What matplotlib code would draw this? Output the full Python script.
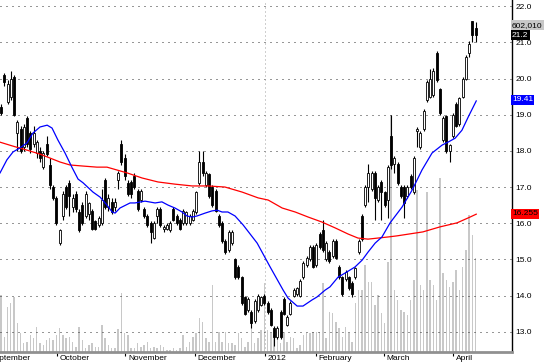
import matplotlib
matplotlib.use('Agg')
import matplotlib.pyplot as plt
import matplotlib.transforms as mtransforms

plt.rcParams['font.family'] = ['Liberation Sans', 'DejaVu Sans']

# daily candles, Sep 2011 - Apr 2012
opens = [19.2, 20.1, 19.35, 19.5, 20.05, 18.5, 18.6, 18.1, 18.9, 18.5,
         18.2, 17.95, 18.0, 17.55, 18.2, 17.6, 17.0, 16.7, 15.45, 16.2,
         17.0, 17.1, 16.45, 16.8, 16.3, 16.5, 16.2, 16.25, 16.35, 16.05,
         15.95, 16.0, 17.2, 16.45, 16.6, 16.45, 17.2, 18.2, 17.8, 17.1,
         17.15, 17.3, 16.9, 16.65, 16.4, 16.2, 16.0, 15.6, 16.2, 16.4,
         15.85, 15.85, 15.8, 16.4, 16.2, 16.1, 16.0, 16.0, 16.0, 16.1,
         16.3, 17.1, 17.7, 17.05, 17.35, 17.0, 16.9, 16.2, 16.0, 15.5,
         15.25, 15.45, 15.0, 14.8, 14.5, 13.95, 13.6, 13.55, 13.3, 13.6,
         13.75, 14.0, 13.8, 13.6, 13.1, 12.85, 13.55, 13.9, 13.2, 13.5,
         14.0, 14.05, 14.0, 14.5, 14.85, 15.0, 15.35, 14.85, 15.7, 15.8,
         15.0, 15.2, 15.1, 15.5, 14.8, 14.5, 14.45, 14.5, 14.35, 14.5,
         15.2, 16.2, 16.5, 17.0, 16.95, 17.4, 16.65, 17.15, 16.85, 16.65,
         18.4, 17.65, 17.65, 17.0, 17.0, 16.75, 17.3, 16.85, 18.55, 18.1,
         18.6, 19.4, 19.5, 19.55, 20.7, 19.7, 18.3, 18.95, 18.0, 18.4,
         19.3, 18.75, 19.5, 20.0, 20.7, 21.6, 21.4]
highs = [19.3, 20.15, 19.95, 20.2, 20.1, 18.85, 18.7, 18.75, 18.95, 18.55,
         18.7, 18.3, 18.1, 18.0, 18.4, 17.8, 17.05, 16.75, 15.85, 16.9,
         17.05, 17.2, 16.8, 16.9, 16.4, 16.6, 16.9, 16.6, 16.4, 16.1,
         16.2, 16.95, 17.25, 16.8, 16.7, 16.7, 17.45, 18.3, 17.9, 17.2,
         17.2, 17.4, 16.95, 16.95, 16.45, 16.25, 16.05, 16.05, 16.45, 16.45,
         15.95, 16.0, 16.05, 16.45, 16.25, 16.15, 16.4, 16.35, 16.25, 16.4,
         16.9, 18.0, 18.0, 17.45, 17.4, 17.05, 16.95, 16.25, 16.05, 15.55,
         15.8, 15.8, 15.05, 14.85, 14.55, 14.0, 13.95, 13.6, 13.9, 14.05,
         14.0, 14.05, 13.85, 13.65, 13.15, 13.15, 13.6, 13.95, 13.45, 13.85,
         14.2, 14.25, 14.45, 14.95, 15.1, 15.4, 15.4, 15.45, 15.75, 16.1,
         15.5, 15.25, 15.55, 15.55, 14.85, 14.55, 14.7, 14.55, 14.4, 14.8,
         15.55, 16.25, 17.05, 17.65, 17.45, 17.45, 17.05, 17.2, 16.9, 17.6,
         19.0, 17.85, 17.7, 17.05, 17.05, 17.05, 17.35, 17.85, 18.65, 18.55,
         19.15, 19.95, 20.25, 20.3, 20.75, 19.75, 18.95, 19.0, 18.2, 19.05,
         19.35, 19.5, 20.05, 20.65, 21.05, 21.6, 21.55]
lows = [19.0, 19.8, 19.3, 19.4, 18.95, 18.0, 17.95, 18.0, 18.1, 17.95,
        18.1, 17.8, 17.7, 17.5, 17.85, 16.95, 16.65, 15.95, 15.4, 16.1,
        16.4, 16.2, 16.3, 16.3, 15.75, 15.95, 16.15, 16.1, 15.8, 15.8,
        15.9, 15.95, 16.4, 16.35, 16.25, 16.35, 16.95, 17.6, 17.2, 16.75,
        16.7, 16.95, 16.35, 16.6, 16.15, 15.9, 15.45, 15.55, 16.0, 15.9,
        15.75, 15.8, 15.75, 16.05, 15.95, 15.8, 15.95, 15.95, 15.95, 16.05,
        16.25, 17.05, 17.3, 17.0, 16.7, 16.45, 16.3, 15.9, 15.45, 15.15,
        15.2, 15.4, 14.45, 14.45, 13.75, 13.45, 13.55, 13.1, 13.25, 13.55,
        13.7, 13.75, 13.5, 13.15, 12.6, 12.8, 12.8, 13.45, 13.15, 13.45,
        13.95, 14.0, 13.95, 14.45, 14.8, 14.95, 14.75, 14.8, 15.3, 15.2,
        14.95, 14.9, 15.05, 15.0, 14.45, 14.0, 14.4, 14.15, 13.95, 14.45,
        15.15, 15.5, 16.45, 16.6, 16.9, 16.1, 16.6, 16.1, 16.45, 16.15,
        17.5, 17.4, 17.05, 16.7, 16.15, 16.7, 16.95, 16.8, 18.1, 18.05,
        18.55, 19.35, 19.45, 19.5, 19.9, 19.0, 18.25, 17.95, 17.7, 18.35,
        18.65, 18.7, 19.45, 19.95, 20.6, 21.0, 21.0]
closes = [19.05, 19.9, 19.85, 20.0, 19.0, 18.8, 18.0, 18.65, 18.2, 18.05,
          18.5, 18.25, 17.8, 17.95, 17.9, 17.05, 16.7, 16.0, 15.8, 16.8,
          16.45, 16.75, 16.7, 16.4, 15.8, 16.0, 16.8, 16.55, 15.85, 15.85,
          16.15, 16.65, 16.45, 16.7, 16.3, 16.6, 17.4, 17.7, 17.3, 16.8,
          16.8, 17.0, 16.4, 16.9, 16.2, 15.95, 15.75, 16.0, 16.4, 15.95,
          15.9, 15.95, 16.0, 16.1, 16.0, 15.85, 16.35, 16.3, 16.2, 16.35,
          16.85, 17.7, 17.4, 17.4, 16.75, 16.5, 16.35, 15.95, 15.5, 15.2,
          15.75, 15.75, 14.5, 14.5, 13.8, 13.5, 13.9, 13.25, 13.85, 14.0,
          13.95, 13.8, 13.55, 13.2, 12.85, 13.1, 12.85, 13.5, 13.4, 13.8,
          14.15, 14.2, 14.4, 14.9, 15.05, 15.35, 14.8, 15.4, 15.35, 15.25,
          15.45, 14.95, 15.5, 15.05, 14.5, 14.05, 14.65, 14.2, 14.05, 14.75,
          15.5, 15.55, 17.0, 17.4, 17.4, 16.7, 17.0, 16.85, 16.5, 17.55,
          17.6, 17.8, 17.1, 16.75, 16.55, 17.0, 17.0, 17.8, 18.6, 18.5,
          19.1, 19.9, 20.0, 20.2, 19.95, 19.05, 18.9, 18.0, 18.15, 19.0,
          18.7, 19.45, 20.0, 20.6, 20.95, 21.2, 21.2]
# volume in thousands of shares
volumes = [365, 96, 288, 314, 352, 186, 122, 58, 64, 109,
           90, 160, 58, 45, 77, 90, 77, 109, 154, 109,
           90, 96, 64, 32, 160, 77, 26, 45, 58, 32,
           32, 173, 90, 45, 26, 26, 147, 378, 122, 109,
           26, 26, 58, 32, 45, 64, 26, 32, 26, 45,
           32, 13, 13, 26, 13, 26, 109, 32, 64, 96,
           122, 218, 192, 90, 64, 429, 64, 128, 64, 128,
           58, 58, 45, 122, 90, 32, 64, 160, 58, 90,
           141, 442, 141, 122, 109, 141, 58, 128, 64, 96,
           90, 26, 45, 109, 122, 122, 128, 128, 128, 442,
           90, 256, 250, 192, 154, 96, 160, 122, 64, 314,
           397, 397, 557, 448, 448, 301, 365, 250, 186, 576,
           1517, 397, 333, 269, 256, 237, 333, 461, 1037, 429,
           397, 1024, 461, 429, 333, 1114, 506, 461, 416, 448,
           525, 397, 544, 653, 877, 749, 602]

# moving averages, read as (bar, price) points
ma20_x = [-0.3, 1.8, 3.7, 5.8, 8.0, 9.8, 12.0, 14.2, 15.7, 17.5, 19.7, 21.8,
          23.7, 25.2, 28.3, 30.5, 32.6, 34.2, 35.1, 36.6, 39.7, 41.2, 44.3,
          47.4, 49.5, 51.4, 53.5, 55.7, 57.2, 58.8, 60.3, 62.8, 64.9, 66.5,
          68.0, 69.8, 72.0, 74.5, 78.8, 82.8, 86.8, 88.3, 91.1, 92.9, 95.7,
          97.2, 99.7, 101.2, 103.7, 105.8, 108.9, 111.1, 112.9, 115.1, 117.2,
          119.7, 123.4, 126.5, 129.5, 132.6, 135.7, 137.5, 139.7, 141.8,
          143.7, 146.2]
ma20_y = [17.39, 17.75, 17.97, 18.08, 18.22, 18.49, 18.66, 18.71, 18.63, 18.30,
          17.94, 17.55, 17.22, 17.12, 16.86, 16.72, 16.50, 16.31, 16.28, 16.42,
          16.56, 16.56, 16.61, 16.56, 16.59, 16.50, 16.42, 16.31, 16.20, 16.17,
          16.20, 16.28, 16.34, 16.36, 16.31, 16.31, 16.20, 15.95, 15.45, 14.79,
          14.15, 13.93, 13.71, 13.71, 13.88, 13.96, 14.15, 14.24, 14.51, 14.62,
          14.79, 14.98, 15.20, 15.45, 15.62, 16.01, 16.45, 16.92, 17.47, 17.94,
          18.16, 18.24, 18.35, 18.57, 18.93, 19.38]
ma100_x = [-0.3, 3.7, 8.0, 12.0, 15.1, 18.2, 21.2, 25.2, 29.5, 32.6, 35.7,
           38.8, 43.4, 48.3, 53.5, 58.8, 63.7, 68.9, 74.2, 79.1, 82.2, 86.5,
           90.5, 94.5, 98.8, 102.8, 106.8, 109.8, 112.9, 116.0, 119.1, 121.8,
           129.8, 135.1, 140.3, 144.3, 146.2]
ma100_y = [18.24, 18.13, 18.02, 17.91, 17.80, 17.69, 17.61, 17.58, 17.55, 17.55,
           17.47, 17.39, 17.25, 17.14, 17.08, 17.03, 17.03, 17.00, 16.86, 16.70,
           16.64, 16.42, 16.31, 16.17, 16.03, 15.87, 15.70, 15.59, 15.56, 15.59,
           15.62, 15.65, 15.76, 15.90, 16.01, 16.17, 16.25]

month_pos = [-4.4, 17.2, 38.2, 59.7, 81.3, 96.9, 117.8, 139.1]
month_labels = ['September', 'October', 'November', 'December', '2012',
                'February', 'March', 'April']
price_ticks = [13.0, 14.0, 15.0, 16.0, 17.0, 18.0, 19.0, 20.0, 21.0, 22.0]

fig = plt.figure(figsize=(5.5, 3.64), dpi=100)
rect = [0, 12 / 364, 512 / 550, 352 / 364]
axv = fig.add_axes(rect)
ax = fig.add_axes(rect, sharex=axv)
ax.patch.set_visible(False)

n = len(closes)
idx = list(range(n))

# volume underneath
axv.bar(idx, volumes, width=0.45, color='#c8c8c8', linewidth=0)
axv.set_ylim(0, 2253)
axv.axis('off')

# grid
for t in price_ticks:
    ax.axhline(t, color='#303030', lw=0.72, ls=(0, (1, 5)), zorder=1)
ax.axvline(81.3, color='#a0a0a0', lw=0.72, ls=(0, (1, 3)), zorder=1)

# candles
bottoms = [min(o, c) for o, c in zip(opens, closes)]
heights = [max(abs(c - o), 0.02) for o, c in zip(opens, closes)]
fills = ['white' if c >= o else 'black' for o, c in zip(opens, closes)]
ax.vlines(idx, lows, highs, color='black', lw=0.8, zorder=3)
ax.bar(idx, heights, bottom=bottoms, width=0.62, color=fills,
       edgecolor='black', linewidth=0.6, zorder=4)

ax.plot(ma100_x, ma100_y, color='#ff0000', lw=0.9, zorder=5)
ax.plot(ma20_x, ma20_y, color='#0000ff', lw=0.9, zorder=5)

ax.set_xlim(-0.31, 157.2)
ax.set_ylim(12.44, 22.17)

for s in ['top', 'left']:
    ax.spines[s].set_visible(False)
ax.spines['right'].set_color('black')
ax.spines['right'].set_linewidth(1.0)
ax.spines['bottom'].set_color('#909090')
ax.spines['bottom'].set_linewidth(2.0)

ax.yaxis.tick_right()
ax.set_yticks(price_ticks)
ax.set_yticklabels(['%.1f' % t for t in price_ticks])
ax.tick_params(axis='y', length=0, pad=2.5, labelsize=6)

ax.set_xticks(month_pos[1:])
ax.tick_params(axis='x', length=3, width=0.8, direction='out', labelbottom=False)
for p, lab in zip(month_pos, month_labels):
    ax.annotate(lab, xy=(p, 0), xycoords=('data', 'axes fraction'),
                xytext=(2, -2.2), textcoords='offset points', ha='left', va='top',
                fontsize=6, annotation_clip=False)

# value tags on the price scale
trans = mtransforms.blended_transform_factory(ax.transAxes, ax.transData)
tags = [(21.475, '602,010', '#c8c8c8', 'black'),
        (21.2, '21.2', 'black', 'white'),
        (19.41, '19.41', '#0000ff', 'white'),
        (16.255, '16.255', '#ff0000', 'black')]
for y, s, bg, fg in tags:
    ax.text(1.0, y, s, transform=trans, fontsize=6, color=fg, ha='left', va='center',
            bbox=dict(boxstyle='square,pad=0.15', fc=bg, ec='none'),
            zorder=10, clip_on=False)

fig.savefig('out.png', dpi=100)
